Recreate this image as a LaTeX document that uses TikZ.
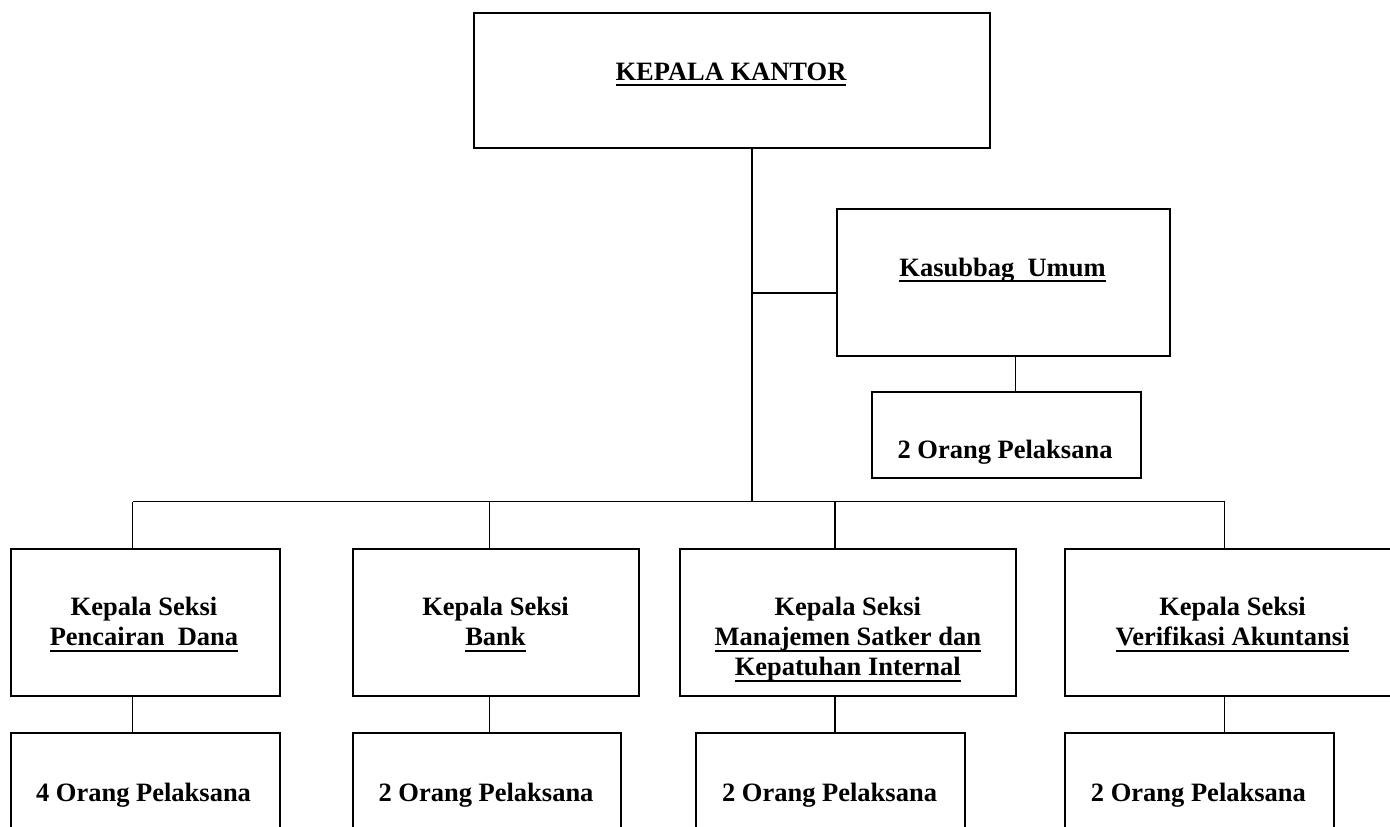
\documentclass[tikz,border=0pt]{standalone}
\usepackage{fontspec}
\setmainfont{Liberation Serif}
\newcommand\ulx[1]{\leavevmode\setbox0\hbox{#1}\rlap{\rule[-3pt]{\wd0}{1pt}}\box0}
\begin{document}
\begin{tikzpicture}[x=0.5pt,y=-0.5pt,
  boxstyle/.style={draw,line width=1pt,rectangle,inner sep=0pt},
  conn/.style={line width=0.7pt},
  lbl/.style={font=\fontsize{13.25pt}{15pt}\selectfont\bfseries,align=center,anchor=base,inner sep=0pt}]
\clip (0,0) rectangle (1390,826);
% boxes (corners in px)
\node[boxstyle,minimum width=516.5pt*0.5,minimum height=135pt*0.5,anchor=north west] (kk) at (472.5,11.7) {};
\node[boxstyle,minimum width=333pt*0.5,minimum height=147pt*0.5,anchor=north west] (ks) at (836,208) {};
\node[boxstyle,minimum width=269.3pt*0.5,minimum height=86pt*0.5,anchor=north west] (ksp) at (870.7,390.7) {};
\node[boxstyle,minimum width=268.8pt*0.5,minimum height=147pt*0.5,anchor=north west] (sa) at (9.8,548) {};
\node[boxstyle,minimum width=286.6pt*0.5,minimum height=147pt*0.5,anchor=north west] (sb) at (351.8,548) {};
\node[boxstyle,minimum width=336.8pt*0.5,minimum height=147pt*0.5,anchor=north west] (sc) at (678.6,548) {};
\node[boxstyle,minimum width=336pt*0.5,minimum height=147pt*0.5,anchor=north west] (sd) at (1064,548) {};
\node[boxstyle,minimum width=268.8pt*0.5,minimum height=140pt*0.5,anchor=north west] (pa) at (9.8,732.3) {};
\node[boxstyle,minimum width=267.8pt*0.5,minimum height=140pt*0.5,anchor=north west] (pb) at (351.8,732.3) {};
\node[boxstyle,minimum width=268.3pt*0.5,minimum height=140pt*0.5,anchor=north west] (pc) at (695.4,732.3) {};
\node[boxstyle,minimum width=268.7pt*0.5,minimum height=140pt*0.5,anchor=north west] (pd) at (1064,732.3) {};
% labels (base anchor = baseline of last line)
\node[lbl] (tkk) at (731,80) {\ulx{KEPALA KANTOR}};
\node[lbl] (tks) at (1002.5,276) {\ulx{Kasubbag\ \ Umum}};
\node[lbl] (tksp) at (1005,458) {2 Orang Pelaksana};
\node[lbl] (tsa) at (144,645.5) {Kepala Seksi\\\ulx{Pencairan\ \ Dana}};
\node[lbl] (tsb) at (495.5,645.5) {Kepala Seksi\\\ulx{Bank}};
\node[lbl] (tsc) at (847.8,675.5) {Kepala Seksi\\\ulx{Manajemen Satker dan}\\\ulx{Kepatuhan Internal}};
\node[lbl] (tsd) at (1232.5,645.5) {Kepala Seksi\\\ulx{Verifikasi Akuntansi}};
\node[lbl] (tpa) at (143.5,801.7) {4 Orang Pelaksana};
\node[lbl] (tpb) at (486,801.7) {2 Orang Pelaksana};
\node[lbl] (tpc) at (829.5,801.7) {2 Orang Pelaksana};
\node[lbl] (tpd) at (1198.4,801.7) {2 Orang Pelaksana};
% connector points
\coordinate (trunk) at (752,501.7);
\coordinate (busL) at (132.6,501.7);
\coordinate (busR) at (1224.5,501.7);
\coordinate (kj) at (752,293);
% connectors
\draw[conn] (kk.south -| trunk) -- (trunk);
\draw[conn] (kj) -- (kj -| ks.west);
\draw[conn] (1015.5,355) coordinate (ksb) -- (ksb |- ksp.north);
\draw[conn] (busL) -- (busR);
\draw[conn] (busL) -- (busL |- sa.north);
\draw[conn] (489.7,501.7) coordinate (bb) -- (bb |- sb.north);
\draw[conn] (835,501.7) coordinate (bc) -- (bc |- sc.north);
\draw[conn] (busR) -- (busR |- sd.north);
\draw[conn] (sa.south -| busL) -- (busL |- pa.north);
\draw[conn] (sb.south -| bb) -- (bb |- pb.north);
\draw[conn] (sc.south -| bc) -- (bc |- pc.north);
\draw[conn] (sd.south -| busR) -- (busR |- pd.north);
\end{tikzpicture}
\end{document}
